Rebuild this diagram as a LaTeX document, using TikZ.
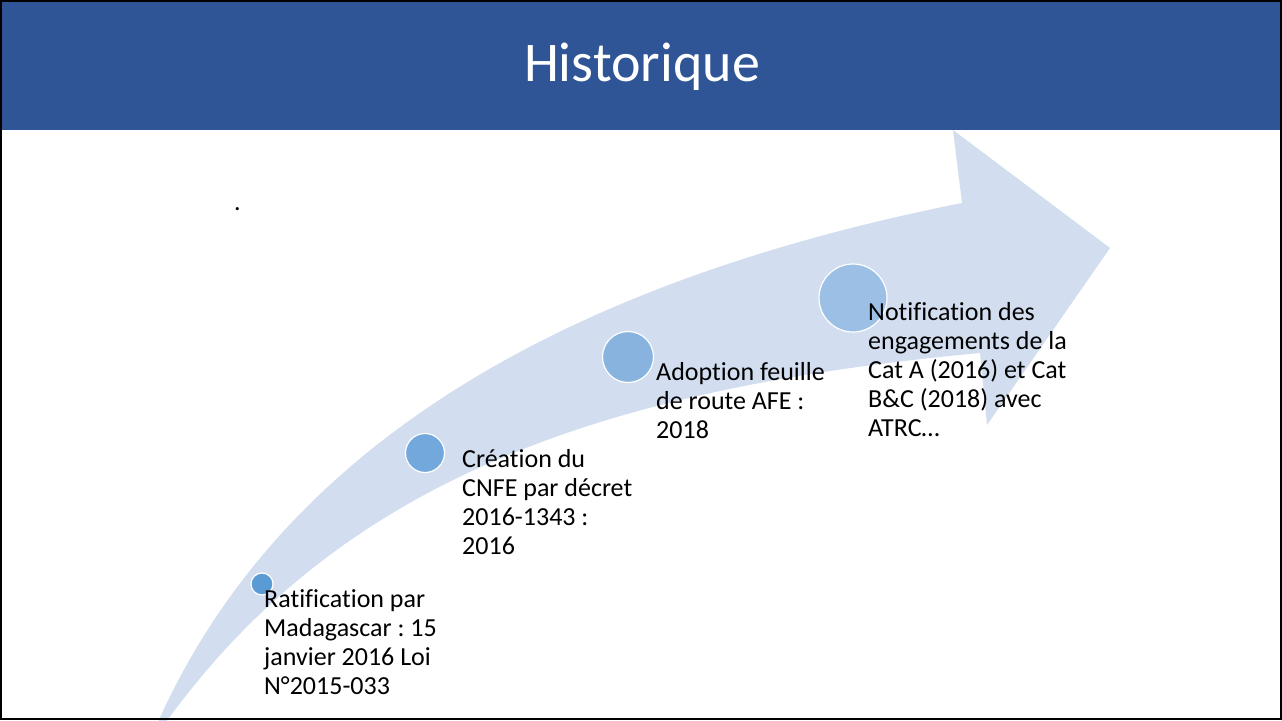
\documentclass[tikz,border=0pt]{standalone}
\usepackage{fontspec}
\setmainfont{Carlito}[Ligatures=NoCommon]
\frenchspacing
\definecolor{hdr}{HTML}{2F5597}
\definecolor{arrowfill}{HTML}{D2DEEF}
\definecolor{mA}{HTML}{5B9BD5}
\definecolor{mB}{HTML}{72A8DB}
\definecolor{mC}{HTML}{88B3DF}
\definecolor{mD}{HTML}{9CC0E5}
\begin{document}
\begin{tikzpicture}[x=1pt,y=-1pt,
  milestone/.style={circle, draw=white, line width=1.2pt, inner sep=0pt},
  desc/.style={anchor=base west, inner sep=0pt, font=\fontsize{26}{29}\selectfont\frenchspacing, text=black}]
\useasboundingbox (0,0) rectangle (1282,720);
\fill[white] (0,0) rectangle (1282,720);
\fill[hdr] (0,0) rectangle (1282,130);
\node[font=\fontsize{56}{60}\selectfont, text=white, anchor=base, inner sep=0pt] (title) at (642,81) {Historique};
\begin{scope}
\clip (0,0) rectangle (1282,720);
\fill[arrowfill] (158,722) .. controls (276,458) and (543.3,286.3) .. (962,203)
  -- (953,130) -- (1110,248) -- (987,425) -- (980,353)
  .. controls (591,389) and (338,485) .. (166,722) -- cycle;
\end{scope}
\node[desc] (dotmark) at (234,210) {.};
\node[milestone, fill=mA, minimum size=22pt] (c1) at (262,584) {};
\node[milestone, fill=mB, minimum size=39pt] (c2) at (425,453) {};
\node[milestone, fill=mC, minimum size=51pt] (c3) at (628,357) {};
\node[milestone, fill=mD, minimum size=68pt] (c4) at (853,298) {};
\node[desc] (t1) at (264,607) {\parbox[t]{220pt}{Ratification par\\Madagascar : 15\\janvier 2016 Loi\\N°2015-033}};
\node[desc] (t2) at (462,467) {\parbox[t]{220pt}{Création du\\CNFE par décret\\2016-1343 :\\2016}};
\node[desc] (t3) at (656,380) {\parbox[t]{220pt}{Adoption feuille\\de route AFE :\\2018}};
\node[desc] (t4) at (868,320) {\parbox[t]{260pt}{Notification des\\engagements de la\\Cat A (2016) et Cat\\B\&C (2018) avec\\ATRC…}};
\draw[black, line width=2pt] (1,1) rectangle (1281,719);
\end{tikzpicture}
\end{document}
